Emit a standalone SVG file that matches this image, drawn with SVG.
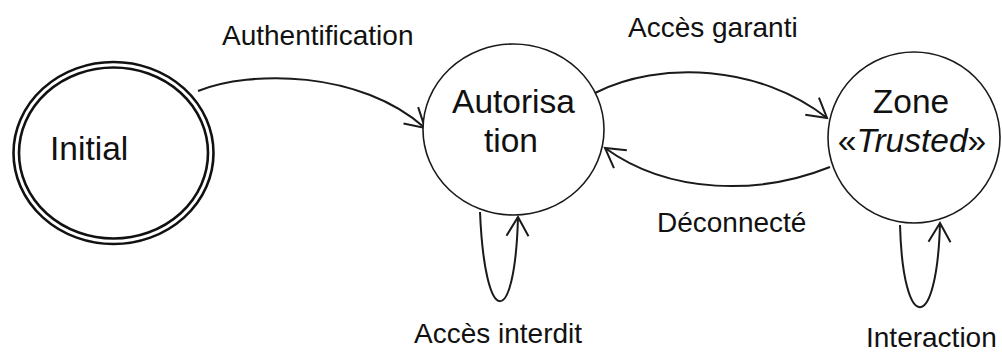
<svg xmlns="http://www.w3.org/2000/svg" width="1002" height="354" viewBox="0 0 1002 354">
  <style>
    .state { fill: #fff; stroke: #1a1a1a; stroke-width: 1.6; }
    .init { fill: #fff; stroke: #111; stroke-width: 2.6; }
    .name { font-family: "Liberation Sans", Arial, sans-serif; font-size: 33.5px; fill: #111; }
    .edge { fill: none; stroke: #1a1a1a; stroke-width: 2; marker-end: url(#arrow); }
    .label { font-family: "Liberation Sans", Arial, sans-serif; font-size: 28px; fill: #111; }
  </style>
  <defs>
    <marker id="arrow" markerUnits="userSpaceOnUse" markerWidth="30" markerHeight="30" viewBox="-25 -15 30 30" refX="0" refY="0" orient="auto">
      <path d="M-19,-11 L0,0 L-19,11" fill="none" stroke="#1a1a1a" stroke-width="2"/>
    </marker>
  </defs>
  <rect width="1002" height="354" fill="#fff"/>

  <!-- transitions -->
  <g id="connectors">
    <path class="edge" d="M198,91 C250,70 360,70 425,128"/>
    <path class="edge" d="M595,93 C660,60 760,65 827,118"/>
    <path class="edge" d="M830,167 C760,195 670,195 605,148"/>
    <path class="edge" d="M480,212 C485,330 515,330 518,217"/>
    <path class="edge" d="M900,225 C903,335 937,335 940,223"/>
    <text class="label" x="222" y="45">Authentification</text>
    <text class="label" x="628" y="37">Accès garanti</text>
    <text class="label" x="657" y="232">Déconnecté</text>
    <text class="label" x="414" y="343">Accès interdit</text>
    <text class="label" x="866" y="347">Interaction</text>
  </g>

  <!-- states -->
  <g id="initial">
    <ellipse class="init" cx="113.5" cy="153" rx="100" ry="91"/>
    <ellipse class="init" cx="113.5" cy="153" rx="94.5" ry="85.5"/>
    <text class="name" x="50" y="160">Initial</text>
  </g>
  <g id="autorisation">
    <ellipse class="state" cx="513.5" cy="129.5" rx="90.5" ry="85.5"/>
    <text class="name" text-anchor="middle" x="513.5" y="113">Autorisa</text>
    <text class="name" text-anchor="middle" x="511" y="152">tion</text>
  </g>
  <g id="zone-trusted">
    <ellipse class="state" cx="914" cy="137.5" rx="86" ry="85.5"/>
    <text class="name" text-anchor="middle" x="911" y="113">Zone</text>
    <text class="name" text-anchor="middle" x="912" y="152">«<tspan font-style="italic">Trusted</tspan>»</text>
  </g>
</svg>
